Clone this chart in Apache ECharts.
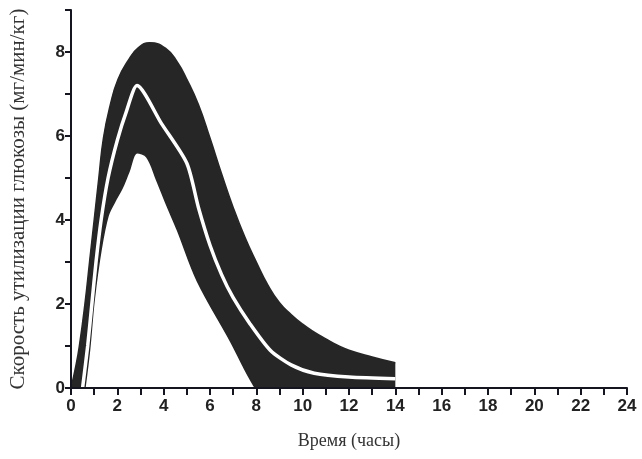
<!DOCTYPE html>
<html>
<head>
<meta charset="utf-8">
<script src="https://cdn.jsdelivr.net/npm/echarts@6/dist/echarts.min.js"></script>
<style>
html,body{margin:0;padding:0;background:#fff;}
#chart{width:642px;height:459px;}
</style>
</head>
<body>
<div id="chart"></div>
<script>
// Upper bound of the band
const upperX = [0, 0.2, 0.36, 0.6, 0.8, 1.0, 1.2, 1.4, 1.7, 2.03, 2.47, 2.9, 3.4, 4.1, 4.6, 5.0, 5.5, 6.0, 6.5, 7.0, 7.5, 8.0, 8.5, 9.0, 9.5, 10, 10.5, 11, 11.5, 12, 13, 14];
const upperY = [0, 0.5, 1.0, 2.0, 3.0, 4.0, 5.0, 5.95, 6.75, 7.35, 7.8, 8.1, 8.22, 8.08, 7.75, 7.35, 6.75, 5.95, 5.1, 4.3, 3.6, 3.0, 2.45, 2.03, 1.75, 1.52, 1.33, 1.17, 1.02, 0.9, 0.74, 0.6];
// Lower bound of the band
const lowerX = [0.6, 0.8, 1.0, 1.3, 1.6, 1.9, 2.2, 2.5, 2.85, 3.27, 3.7, 4.1, 4.6, 5.45, 6.9, 7.45, 7.85, 8.0, 14];
const lowerY = [0, 0.9, 2.1, 3.3, 4.1, 4.45, 4.75, 5.15, 5.6, 5.5, 4.95, 4.4, 3.75, 2.55, 1.1, 0.5, 0.1, 0, 0];
// Mean curve
const meanX = [0.5, 0.72, 0.9, 1.08, 1.3, 1.6, 2.0, 2.4, 2.85, 3.9, 5.0, 5.5, 6.0, 6.5, 7.0, 7.7, 8.6, 9.5, 10.5, 12, 14];
const meanY = [0, 1, 2, 3, 4, 5, 5.9, 6.6, 7.2, 6.3, 5.35, 4.3, 3.4, 2.7, 2.15, 1.55, 0.9, 0.55, 0.35, 0.26, 0.22];

const zip = (xs, ys) => xs.map((x, i) => [x, ys[i]]);

const axisColor = '#15151f';
const labelFont = {fontFamily: 'Liberation Sans, Arial, sans-serif', fontSize: 17, fontWeight: 'bold', color: '#222'};
const xNameFont = {fontFamily: 'Liberation Serif, Times New Roman, serif', fontSize: 18, color: '#333'};
const yNameFont = {fontFamily: 'Liberation Serif, Times New Roman, serif', fontSize: 21, color: '#333'};

const chart = echarts.init(document.getElementById('chart'));
chart.setOption({
  animation: false,
  backgroundColor: '#fff',
  grid: {left: 71, right: 15, top: 10, bottom: 71, containLabel: false, outerBoundsMode: 'none'},
  xAxis: {
    type: 'value', min: 0, max: 24, interval: 1, z: 5,
    name: 'Время (часы)', nameLocation: 'middle', nameGap: 44,
    nameTextStyle: xNameFont,
    axisLine: {show: true, onZero: false, lineStyle: {color: axisColor, width: 2}},
    axisTick: {show: true, inside: false, length: 7, lineStyle: {color: axisColor, width: 2}},
    axisLabel: Object.assign({margin: 10, formatter: v => (v % 2 === 0 ? String(v) : '')}, labelFont),
    splitLine: {show: false}
  },
  yAxis: {
    type: 'value', min: 0, max: 9, interval: 1, z: 5,
    name: 'Скорость утилизации глюкозы (мг/мин/кг)', nameLocation: 'middle', nameGap: 42,
    nameTextStyle: yNameFont,
    axisLine: {show: true, onZero: false, lineStyle: {color: axisColor, width: 2}},
    axisTick: {show: true, inside: false, length: 6, lineStyle: {color: axisColor, width: 2}},
    axisLabel: Object.assign({margin: 6, formatter: v => (v % 2 === 0 && v <= 8 ? String(v) : '')}, labelFont),
    splitLine: {show: false}
  },
  series: [
    {
      type: 'line', data: zip(upperX, upperY), smooth: 0.5, showSymbol: false, z: 2,
      lineStyle: {color: '#262626', width: 1.5},
      areaStyle: {color: '#262626', opacity: 1}
    },
    {
      type: 'line', data: zip(lowerX, lowerY), smooth: 0.35, showSymbol: false, z: 3,
      lineStyle: {color: '#262626', width: 1.5},
      areaStyle: {color: '#ffffff', opacity: 1}
    },
    {
      type: 'line', data: zip(meanX, meanY), smooth: 0.25, showSymbol: false, z: 4,
      lineStyle: {color: '#ffffff', width: 3.5}
    }
  ]
});
</script>
</body>
</html>
